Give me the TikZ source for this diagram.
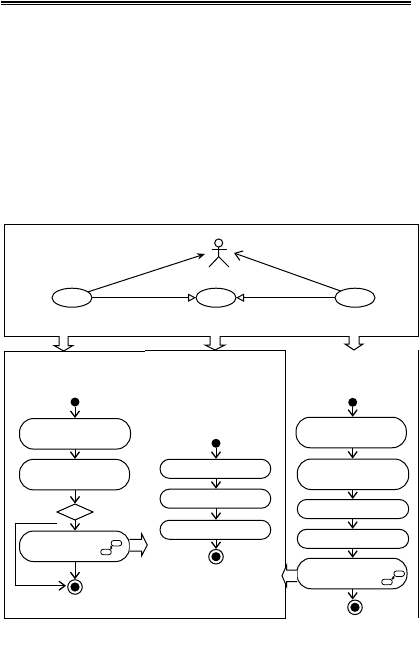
\documentclass[tikz,border=0pt]{standalone}
\usetikzlibrary{arrows.meta,shapes.geometric}
\tikzset{
  x=1pt,y=-1pt,
  base/.style={line width=1pt,draw=black},
  usecase/.style={base,ellipse,minimum width=40pt,minimum height=19pt,inner sep=0pt,outer sep=0pt},
  act/.style={base,rectangle,rounded corners=14pt,inner sep=0pt,outer sep=0pt,minimum width=#1},
  act/.default=110pt,
  tall/.style={minimum height=30.5pt},
  short/.style={minimum height=19pt,rounded corners=9.4pt},
  startdot/.style={circle,fill=black,minimum size=9pt,inner sep=0pt,outer sep=0pt},
  enddot/.style={base,circle,minimum size=14.5pt,inner sep=0pt,outer sep=0pt,path picture={\fill (path picture bounding box.center) circle (4.6pt);}},
  decision/.style={base,diamond,minimum width=36pt,minimum height=16pt,inner sep=0pt,outer sep=0pt,aspect=2.2},
  flow/.style={base,-{Straight Barb[length=6pt,width=9pt,line width=1.3pt]},shorten >=0.5pt},
  solidflow/.style={base,-{Stealth[length=8pt,width=6.5pt]}},
  openflow/.style={base,-{Straight Barb[length=7pt,width=10pt,line width=1.1pt]}},
  gen/.style={base,-{Triangle[open,length=8pt,width=8pt,fill=white]}},
  blockarrow/.style={line width=1pt,draw=black,fill=white,line join=miter},
  mini/.style={line width=0.8pt,draw=black,rounded corners=2.5pt,inner sep=0pt,outer sep=0pt,minimum width=10.5pt,minimum height=5.5pt,fill=white},
  frameline/.style={line width=1pt,draw=black}
}
\begin{document}
\begin{tikzpicture}
\useasboundingbox (0,0) rectangle (419,654);
\fill[white] (0,0) rectangle (419,654);
% header rules
\fill (1,1) rectangle (411,3.2);
\fill (1,4.2) rectangle (411,5);
% frames
\draw[frameline] (4.5,224.5) rectangle (418,336);
\draw[frameline] (145,351) -- (4.5,351) -- (4.5,618) -- (285.5,618) -- (285.5,350) -- (145,350);
\draw[frameline] (418,350) -- (418,618);
% block arrows between frames
\draw[blockarrow] (59,336) -- (59,345.5) -- (54,345.5) -- (63.7,351) -- (73,345.5) -- (68,345.5) -- (68,336);
\draw[blockarrow] (210,336) -- (210,345) -- (205,345) -- (215,350) -- (225,345) -- (220,345) -- (220,336);
\draw[blockarrow] (349,336) -- (349,344) -- (345,344) -- (354,350) -- (363,344) -- (359,344) -- (359,336);
% use case part
\node[usecase] (ucA) at (72,297.7) {};
\node[usecase] (ucB) at (216,297.7) {};
\node[usecase] (ucC) at (355,297.7) {};
\coordinate (actorL) at (205,254);
\coordinate (actorR) at (234,253);
\node[base,circle,minimum size=8pt,inner sep=0pt,outer sep=0pt] (head) at (218.7,243) {};
\draw[base] (head.south) -- (218.7,256.7) -- (209,267);
\draw[base] (218.7,256.7) -- (229,267);
\draw[base] (212,249) -- (227,249);
\draw[solidflow] (ucA.20) -- (actorL);
\draw[openflow] (ucC.155) -- (actorR);
\draw[gen] (ucA.east) -- (ucB.west);
\draw[gen] (ucC.west) -- (ucB.east);
% left column
\node[startdot] (ls) at (75,402) {};
\node[act=111pt,tall] (l1) at (75,433.8) {};
\node[act=110pt,tall] (l2) at (74.5,474.6) {};
\node[decision] (ld) at (75,512) {};
\node[act=110pt,tall] (l3) at (74.5,546.3) {};
\node[enddot] (le) at (75,587) {};
\draw[flow] (ls) -- (ls|-l1.north);
\draw[flow] (ls|-l1.south) -- (ls|-l2.north);
\draw[flow] (ls|-l2.south) -- (ld.north);
\draw[flow] (ld.south) -- (ls|-l3.north);
\draw[flow] (ls|-l3.south) -- (le.north);
\coordinate (loopstart) at (57,523.3);
\coordinate (loopend) at (66.5,585.7);
\draw[flow] (loopstart) -- (15,523.3) -- (15,585.7) -- (loopend);
\node[mini] (li1) at (116.4,543.2) {};
\node[mini] (li2) at (106,552) {};
\draw[line width=1.8pt] (li2.north east) -- (li1.south west);
\draw[blockarrow] (129.5,539.3) -- (141.7,539.3) -- (141.7,534) -- (147.3,545) -- (141.7,555.7) -- (141.7,551) -- (129.5,551);
% middle column
\node[startdot] (ms) at (216,443.3) {};
\node[act=110.7pt,short] (m1) at (215.4,468.8) {};
\node[act=110.7pt,short] (m2) at (215.4,498.7) {};
\node[act=110.7pt,short] (m3) at (215.4,529.8) {};
\node[enddot] (me) at (216,556.7) {};
\draw[flow] (ms) -- (ms|-m1.north);
\draw[flow] (ms|-m1.south) -- (ms|-m2.north);
\draw[flow] (ms|-m2.south) -- (ms|-m3.north);
\draw[flow] (ms|-m3.south) -- (me.north);
% right column
\node[startdot] (rs) at (352.7,402.3) {};
\node[act=110.3pt,tall] (r1) at (351.2,432.5) {};
\node[act=111.4pt,tall] (r2) at (353,474.3) {};
\node[act=111.4pt,short] (r3) at (353,509) {};
\node[act=111.4pt,short] (r4) at (353,538.8) {};
\node[act=110pt,tall] (r5) at (352,573.5) {};
\node[enddot] (re) at (355,607.3) {};
\draw[flow] (rs) -- (rs|-r1.north);
\draw[flow] (rs|-r1.south) -- (rs|-r2.north);
\draw[flow] (rs|-r2.south) -- (rs|-r3.north);
\draw[flow] (rs|-r3.south) -- (rs|-r4.north);
\draw[flow] (rs|-r4.south) -- (rs|-r5.north);
\draw[flow,line width=1.3pt] (rs|-r5.south) -- (rs|-re.north);
\node[mini] (ri1) at (399.2,573.7) {};
\node[mini] (ri2) at (387,582) {};
\draw[line width=1.8pt] (ri2.north east) -- (ri1.south west);
\draw[blockarrow] (297,570) -- (286.7,570) -- (286.7,565) -- (282,575.7) -- (286.7,586.7) -- (286.7,581.7) -- (297,581.7);
\end{tikzpicture}
\end{document}
